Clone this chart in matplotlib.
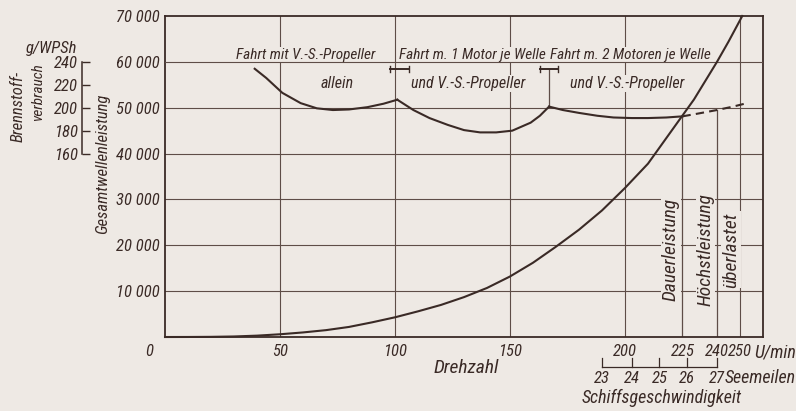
import matplotlib.pyplot as plt
from matplotlib.ticker import FuncFormatter

plt.rcParams['font.family'] = ['Roboto Condensed', 'DejaVu Sans']
plt.rcParams['font.stretch'] = 'condensed'
plt.rcParams['font.style'] = 'italic'

paper = '#eee9e4'
ink = '#3a2a26'
grid_ink = '#5e4d47'

# Gesamtwellenleistung (WPS) ueber Drehzahl (U/min)
rpm_power = [0, 10, 20, 30, 40, 50, 60, 70, 80, 90, 100, 110, 120, 130, 140, 150,
             160, 170, 180, 190, 200, 210, 220, 230, 240, 245, 251]
power = [0, 10, 40, 120, 300, 600, 1000, 1500, 2200, 3200, 4300, 5600, 7000, 8700,
         10700, 13200, 16200, 19700, 23400, 27600, 32500, 37800, 44800, 51800,
         60000, 64400, 70000]

# Brennstoffverbrauch (g/WPSh), drei Fahrstufen
rpm_vs = [39, 44, 51, 59, 66, 73, 80, 88, 95, 101]
fuel_vs = [234, 226, 213, 204, 199.5, 198, 198.5, 200.5, 203.5, 207]
rpm_1mot = [101, 108, 115, 123, 130, 137, 144, 151, 159, 163, 167]
fuel_1mot = [207, 198, 191, 185, 180.5, 178.5, 178.5, 180, 187, 193, 201]
rpm_2mot = [167, 173, 180, 188, 195, 203, 210, 218, 225]
fuel_2mot = [201, 198, 195.5, 193, 191.5, 191, 191, 191.5, 192.5]
rpm_over = [225, 232, 240, 247, 252]
fuel_over = [192.5, 195, 198, 201, 203.5]

x_ticks = [50, 100, 150, 200, 225, 240, 250]
y_ticks = [10000, 20000, 30000, 40000, 50000, 60000, 70000]
fuel_ticks = [160, 180, 200, 220, 240]
knots = [23, 24, 25, 26, 27]
knots_rpm = [190, 203, 215, 227, 240]

fig = plt.figure(figsize=(7.96, 4.11), dpi=100, facecolor=paper)
ax = fig.add_axes([0.2073, 0.180, 0.7512, 0.781])
ax.set_facecolor(paper)
ax.set_xlim(0, 260)
ax.set_ylim(0, 70000)

for s in ax.spines.values():
    s.set_color(ink)
    s.set_linewidth(1.3)

# Netz
for y in y_ticks[:-2]:
    ax.axhline(y, color=grid_ink, lw=0.8, zorder=1)
ax.axhline(60000, color=grid_ink, lw=0.8, zorder=3.5)
for x in [50, 100, 150, 200, 250]:
    ax.axvline(x, color=grid_ink, lw=0.8, zorder=1)
ax.plot([225, 225], [0, fuel_2mot[-1] * 250], color=grid_ink, lw=0.9, zorder=1)
ax.plot([240, 240], [0, fuel_over[2] * 250], color=grid_ink, lw=0.9, zorder=1)
ax.plot([167, 167], [58500, fuel_1mot[-1] * 250], color=grid_ink, lw=0.9, zorder=1)

# Leistungskurve
ax.plot(rpm_power, power, color=ink, lw=1.5, zorder=4, clip_on=False)

# Verbrauchskurven auf zweiter Achse (1 g/WPSh = 250 WPS)
ax2 = ax.twinx()
ax2.set_ylim(0, 280)
for s in ax2.spines.values():
    s.set_visible(False)
ax2.plot(rpm_vs, fuel_vs, color=ink, lw=1.5, zorder=4)
ax2.plot(rpm_1mot, fuel_1mot, color=ink, lw=1.5, zorder=4)
ax2.plot(rpm_2mot, fuel_2mot, color=ink, lw=1.5, zorder=4)
ax2.plot(rpm_over, fuel_over, color=ink, lw=1.5, ls=(0, (4, 2.5)), zorder=4)
ax2.yaxis.tick_left()
ax2.spines['left'].set_visible(True)
ax2.spines['left'].set_position(('axes', -0.139))
ax2.spines['left'].set_bounds(160, 240)
ax2.spines['left'].set_color(ink)
ax2.spines['left'].set_linewidth(1.1)
ax2.set_yticks(fuel_ticks)
ax2.tick_params(axis='y', direction='in', length=6, width=1, color=ink,
                labelsize=12, labelcolor=ink, pad=3)
ax2.tick_params(axis='y', which='both', right=False, labelright=False)

# Achsbeschriftung Leistung
ax.set_yticks(y_ticks)
ax.yaxis.set_major_formatter(FuncFormatter(lambda v, p: f'{int(v):,}'.replace(',', ' ')))
ax.tick_params(axis='y', length=0, pad=4, labelsize=12, labelcolor=ink)
ax.set_xticks(x_ticks)
ax.tick_params(axis='x', length=0, pad=5, labelsize=12, labelcolor=ink)
ax.text(-5, -1500, '0', ha='right', va='top', fontsize=12, color=ink)
ax.text(-2, 0.93, 'WPS', transform=ax.get_yaxis_transform(), ha='right', va='center',
        fontsize=12, color=ink, clip_on=False)
ax.text(256, -0.019, 'U/min', transform=ax.get_xaxis_transform(), ha='left',
        va='top', fontsize=13, color=ink, clip_on=False)
ax.text(-0.104, 0.54, 'Gesamtwellenleistung', transform=ax.transAxes, rotation=90,
        ha='center', va='center', fontsize=12, color=ink)
ax.text(131, -0.097, 'Drehzahl', transform=ax.get_xaxis_transform(), ha='center',
        va='center', fontsize=14, color=ink)

# Geschwindigkeitsleiste unter der Drehzahlachse
tr = ax.get_xaxis_transform()
ax.plot([knots_rpm[0], knots_rpm[-1]], [-0.093, -0.093], transform=tr, color=ink,
        lw=0.9, clip_on=False)
for r, k in zip(knots_rpm, knots):
    ax.plot([r, r], [-0.093, -0.066], transform=tr, color=ink, lw=0.9, clip_on=False)
    ax.text(r, -0.128, str(k), transform=tr, ha='center', va='center', fontsize=12,
            color=ink)
ax.text(243.5, -0.128, 'Seemeilen', transform=tr, ha='left', va='center', fontsize=13,
        color=ink)
ax.text(216, -0.19, 'Schiffsgeschwindigkeit', transform=tr, ha='center', va='center',
        fontsize=13, color=ink)

# Brennstoffachse links
fig.text(52 / 796, 1 - 48 / 411, 'g/WPSh', ha='center', va='center', fontsize=12,
         color=ink)
fig.text(18 / 796, 1 - 106 / 411, 'Brennstoff-', rotation=90, ha='center',
         va='center', fontsize=12, color=ink)
fig.text(38 / 796, 1 - 92 / 411, 'verbrauch', rotation=90, ha='center', va='center',
         fontsize=11, color=ink)

# Fahrstufen
box = dict(facecolor=paper, edgecolor='none', pad=0.5)
stages = [(61, 'Fahrt mit V.-S.-Propeller', 75, 'allein'),
          (133.5, 'Fahrt m. 1 Motor je Welle', 132, 'und V.-S.-Propeller'),
          (202.5, 'Fahrt m. 2 Motoren je Welle', 201, 'und V.-S.-Propeller')]
for x1, t1, x2, t2 in stages:
    ax.text(x1, 61500, t1, ha='center', va='center', fontsize=11, color=ink,
            bbox=box, zorder=3)
    ax.text(x2, 55300, t2, ha='center', va='center', fontsize=11.5, color=ink,
            bbox=box, zorder=3)
for x0, x1 in [(98, 106), (163, 171)]:
    ax.plot([x0, x1], [58500, 58500], color=ink, lw=1.4, zorder=3)
    for xe in (x0, x1):
        ax.plot([xe, xe], [57800, 59200], color=ink, lw=1.0, zorder=3)

# Betriebsbereiche
for x, t in [(220, 'Dauerleistung'), (235, 'Höchstleistung'), (246, 'überlastet')]:
    ax.text(x, 19000, t, rotation=90, ha='center', va='center', fontsize=14,
            color=ink, bbox=box, zorder=3)

plt.savefig('out.png', dpi=100, facecolor=paper)
